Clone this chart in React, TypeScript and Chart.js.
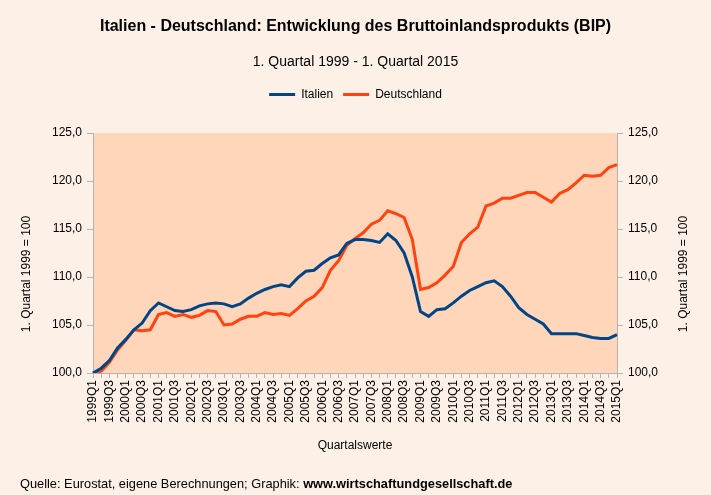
import React, { useEffect, useRef } from "react";
import { Chart, registerables } from "chart.js";

Chart.register(...registerables);

const quarters: string[] = [];
for (let y = 1999; y <= 2015; y++) {
  for (let q = 1; q <= 4; q++) {
    if (y === 2015 && q > 1) break;
    quarters.push(`${y}Q${q}`);
  }
}

const italien = [
  100.0, 100.5, 101.3, 102.6, 103.5, 104.5, 105.2, 106.5, 107.3, 106.9,
  106.5, 106.4, 106.6, 107.0, 107.2, 107.3, 107.2, 106.9, 107.2, 107.8,
  108.3, 108.7, 109.0, 109.2, 109.0, 109.9, 110.6, 110.7, 111.4, 112.0,
  112.3, 113.5, 113.9, 113.9, 113.8, 113.6, 114.5, 113.8, 112.5, 110.0,
  106.4, 105.9, 106.6, 106.7, 107.3, 108.0, 108.6, 109.0, 109.4, 109.6,
  109.0, 108.0, 106.8, 106.1, 105.6, 105.1, 104.1, 104.1, 104.1, 104.1,
  103.9, 103.7, 103.6, 103.6, 104.0,
];

const deutschland = [
  100.0, 100.2, 101.1, 102.4, 103.4, 104.5, 104.4, 104.5, 106.1, 106.3,
  105.9, 106.1, 105.8, 106.0, 106.5, 106.4, 105.0, 105.1, 105.6, 105.9,
  105.9, 106.3, 106.1, 106.2, 106.0, 106.7, 107.5, 108.0, 108.9, 110.7,
  111.7, 113.3, 114.0, 114.6, 115.5, 115.9, 116.9, 116.6, 116.2, 113.9,
  108.7, 108.9, 109.4, 110.2, 111.1, 113.6, 114.5, 115.2, 117.4, 117.7,
  118.2, 118.2, 118.5, 118.8, 118.8, 118.3, 117.8, 118.7, 119.1, 119.8,
  120.6, 120.5, 120.6, 121.4, 121.7,
];

const titleText = "Italien - Deutschland: Entwicklung des Bruttoinlandsprodukts (BIP)";
const subtitleText = "1. Quartal 1999 - 1. Quartal 2015";
const yTitle = "1. Quartal 1999 = 100";
const xTitle = "Quartalswerte";
const footerNormal = "Quelle: Eurostat, eigene Berechnungen; Graphik: ";
const footerBold = "www.wirtschaftundgesellschaft.de";

const FONT = "'Liberation Sans', Arial, sans-serif";
const OUTER_BG = "#fdf0e6";
const PLOT_BG = "#ffd6ba";
const AXIS = "#b3b3b3";
const BLUE = "#004586";
const ORANGE = "#ff420e";

const bgPlugin = {
  id: "bgPlugin",
  beforeDraw(chart: any) {
    const { ctx, chartArea, width, height } = chart;
    ctx.save();
    ctx.fillStyle = OUTER_BG;
    ctx.fillRect(0, 0, width, height);
    ctx.fillStyle = PLOT_BG;
    ctx.fillRect(chartArea.left, chartArea.top, chartArea.right - chartArea.left, chartArea.bottom - chartArea.top);
    ctx.restore();
  },
  afterDraw(chart: any) {
    const { ctx } = chart;
    ctx.save();
    ctx.fillStyle = "#000";
    ctx.font = `12px ${FONT}`;
    ctx.textAlign = "center";
    ctx.textBaseline = "middle";
    const cy = 274;
    for (const cx of [27, 684]) {
      ctx.save();
      ctx.translate(cx, cy);
      ctx.rotate(-Math.PI / 2);
      ctx.fillText(yTitle, 0, 0);
      ctx.restore();
    }
    ctx.textAlign = "left";
    ctx.font = `12.8px ${FONT}`;
    const fx = 20;
    const fy = 484;
    ctx.fillText(footerNormal, fx, fy);
    const w = ctx.measureText(footerNormal).width;
    ctx.font = `bold 12.8px ${FONT}`;
    ctx.fillText(footerBold, fx + w, fy);
    ctx.restore();
  },
};

export default function App() {
  const ref = useRef<HTMLCanvasElement | null>(null);
  useEffect(() => {
    if (!ref.current) return;
    Chart.defaults.font.family = FONT;
    Chart.defaults.color = "#000";
    const chart = new Chart(ref.current, {
      type: "line",
      data: {
        labels: quarters,
        datasets: [
          {
            label: "Italien",
            data: italien,
            borderColor: BLUE,
            backgroundColor: BLUE,
            borderWidth: 3,
            pointRadius: 0,
            tension: 0,
            xAxisID: "x",
            yAxisID: "y",
          },
          {
            label: "Deutschland",
            data: deutschland,
            borderColor: ORANGE,
            backgroundColor: ORANGE,
            borderWidth: 3,
            pointRadius: 0,
            tension: 0,
            xAxisID: "x",
            yAxisID: "y",
          },
        ],
      },
      options: {
        responsive: false,
        animation: false,
        devicePixelRatio: 1,
        layout: { padding: { left: 0, right: 0, top: 0, bottom: 30 } },
        plugins: {
          title: {
            display: true,
            text: titleText,
            color: "#000",
            font: { size: 16, weight: "bold", family: FONT },
            padding: { top: 17, bottom: 10 },
          },
          subtitle: {
            display: true,
            text: subtitleText,
            color: "#000",
            font: { size: 14, family: FONT },
            padding: { top: 8, bottom: 7.5 },
          },
          legend: {
            display: true,
            position: "top",
            labels: {
              boxWidth: 26,
              boxHeight: 3,
              padding: 10,
              color: "#000",
              font: { size: 12, family: FONT },
              generateLabels(chart: any) {
                const items = Chart.defaults.plugins.legend.labels.generateLabels(chart);
                return items.map((it: any) => ({ ...it, fillStyle: it.strokeStyle, lineWidth: 0 }));
              },
            },
          },
          tooltip: { enabled: false },
        },
        scales: {
          x: {
            type: "category",
            position: "bottom",
            offset: false,
            grid: { display: true, drawOnChartArea: false, drawTicks: true, tickLength: 5, color: AXIS },
            border: { display: true, color: AXIS },
            ticks: {
              autoSkip: false,
              minRotation: 90,
              maxRotation: 90,
              padding: 2,
              font: { size: 12, family: FONT },
              color: "#000",
              callback: (_v: any, i: number) => (i % 2 === 0 ? quarters[i] : ""),
            },
            title: {
              display: true,
              text: xTitle,
              color: "#000",
              font: { size: 12, family: FONT },
              padding: { top: 0, bottom: 12 },
            },
            afterFit(s: any) {
              s.height = 92;
            },
          },
          xTop: {
            type: "category",
            position: "top",
            display: true,
            grid: { display: false },
            border: { display: false },
            ticks: { display: false },
            afterFit(s: any) {
              s.height = 22.5;
            },
          },
          y: {
            position: "left",
            min: 100,
            max: 125,
            grid: { display: true, drawOnChartArea: false, drawTicks: true, tickLength: 6, color: AXIS },
            border: { display: true, color: AXIS },
            ticks: {
              stepSize: 5,
              padding: 5,
              font: { size: 12, family: FONT },
              color: "#000",
              callback: (v: any) => Number(v).toFixed(1).replace(".", ","),
            },
            afterFit(s: any) {
              s.width = 93;
            },
          },
          y2: {
            position: "right",
            min: 100,
            max: 125,
            grid: { display: true, drawOnChartArea: false, drawTicks: true, tickLength: 6, color: AXIS },
            border: { display: true, color: AXIS },
            ticks: {
              stepSize: 5,
              padding: 5,
              font: { size: 12, family: FONT },
              color: "#000",
              callback: (v: any) => Number(v).toFixed(1).replace(".", ","),
            },
            afterFit(s: any) {
              s.width = 94;
            },
          },
        },
      } as any,
      plugins: [bgPlugin],
    });
    return () => chart.destroy();
  }, []);

  return (
    <div style={{ position: "absolute", left: 0, top: 0, width: 711, height: 495 }}>
      <canvas ref={ref} width={711} height={495} style={{ display: "block" }} />
    </div>
  );
}
